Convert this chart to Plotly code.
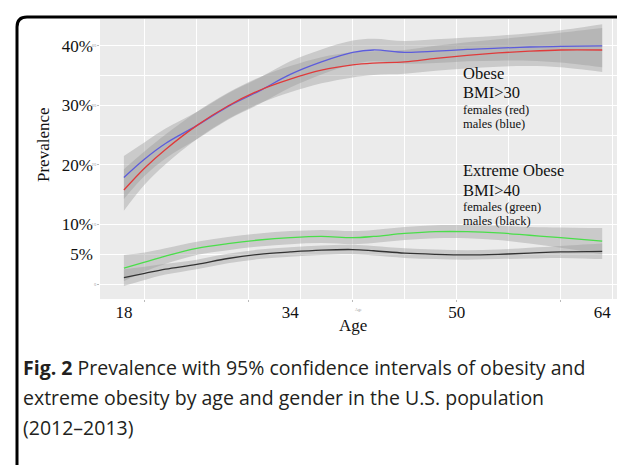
import plotly.graph_objects as go

# ---- data ----
ages = [18, 20, 22, 25, 28, 31, 34, 37, 40, 42, 45, 48, 51, 54, 57, 60, 64]

obese_male = [17.9, 21.0, 23.6, 26.6, 29.8, 32.4, 35.2, 37.3, 38.9, 39.3, 38.9, 39.1, 39.4, 39.6, 39.8, 39.9, 40.0]
obese_male_hw = [3.6, 2.8, 2.5, 2.3, 2.2, 2.2, 2.2, 2.1, 2.0, 1.9, 1.9, 2.0, 2.0, 2.1, 2.3, 2.7, 3.6]
obese_female = [15.8, 19.5, 22.6, 26.6, 29.9, 32.5, 34.4, 35.9, 36.8, 37.1, 37.3, 37.9, 38.4, 38.8, 39.1, 39.3, 39.3]
obese_female_hw = [3.5, 2.8, 2.5, 2.3, 2.2, 2.2, 2.2, 2.2, 2.1, 2.0, 2.0, 2.1, 2.2, 2.3, 2.5, 2.9, 3.7]

extreme_female = [2.7, 3.7, 4.7, 6.0, 6.8, 7.4, 7.8, 8.0, 7.8, 8.0, 8.5, 8.8, 8.8, 8.6, 8.2, 7.8, 7.2]
extreme_female_hw = [2.2, 1.6, 1.3, 1.1, 1.1, 1.1, 1.1, 1.1, 1.1, 1.1, 1.1, 1.1, 1.1, 1.2, 1.4, 1.7, 2.2]
extreme_male = [1.1, 1.8, 2.5, 3.3, 4.3, 5.0, 5.4, 5.7, 5.8, 5.6, 5.2, 5.0, 4.9, 5.0, 5.2, 5.4, 5.5]
extreme_male_hw = [1.4, 1.1, 0.9, 0.8, 0.8, 0.8, 0.8, 0.8, 0.8, 0.8, 0.8, 0.8, 0.8, 0.8, 0.9, 1.0, 1.3]

x_grid_major = [20, 30, 40, 50, 60]
x_grid_minor = [25, 35, 45, 55, 65]
y_grid_major = [0, 10, 20, 30, 40]
y_grid_minor = [5, 15, 25, 35]
x_label_vals = [18, 34, 50, 64]
y_label_vals = [5, 10, 20, 30, 40]
y_label_text = ["5%", "10%", "20%", "30%", "40%"]

# ---- geometry ----
W, H = 625, 465
ML, MR, MT, MB = 92, 10, 11, 174
PW, PH = W - ML - MR, H - MT - MB
XR = [15.7, 66.0]
YR = [-2.5, 44.5]


def px(xpix):
    return (xpix - ML) / PW


def py(ypix):
    return (H - MB - ypix) / PH


SERIF = "Liberation Serif"
BAND = "rgba(153,153,153,0.4)"

fig = go.Figure()

series = [
    (obese_male, obese_male_hw, "#5c5cdc"),
    (obese_female, obese_female_hw, "#e03a3a"),
    (extreme_female, extreme_female_hw, "#4ade4a"),
    (extreme_male, extreme_male_hw, "#333333"),
]

for vals, hw, col in series:
    lo = [v - h for v, h in zip(vals, hw)]
    hi = [v + h for v, h in zip(vals, hw)]
    fig.add_trace(go.Scatter(x=ages, y=lo, mode="lines", line=dict(width=0, shape="spline"),
                             showlegend=False, hoverinfo="skip"))
    fig.add_trace(go.Scatter(x=ages, y=hi, mode="lines", line=dict(width=0, shape="spline"),
                             fill="tonexty", fillcolor=BAND, showlegend=False, hoverinfo="skip"))

for vals, hw, col in series:
    fig.add_trace(go.Scatter(x=ages, y=vals, mode="lines", line=dict(color=col, width=1.3, shape="spline"),
                             showlegend=False))

# dummy trace for the overlay axes
fig.add_trace(go.Scatter(x=[None], y=[None], xaxis="x2", yaxis="y2", showlegend=False, hoverinfo="skip"))

tiny = dict(size=4, color="#999999")
fig.update_layout(
    width=W, height=H,
    margin=dict(l=ML, r=MR, t=MT, b=MB),
    paper_bgcolor="white",
    plot_bgcolor="#EBEBEB",
    showlegend=False,
    xaxis=dict(range=XR, tickvals=x_grid_major, showticklabels=False,
               ticks="outside", ticklen=2, tickcolor="#bbbbbb",
               showgrid=True, gridcolor="white", gridwidth=1.1, zeroline=False,
               minor=dict(tickvals=x_grid_minor, showgrid=True, gridcolor="white", gridwidth=0.5, ticks=""),
               showline=False),
    yaxis=dict(range=YR, tickvals=y_grid_major, ticktext=[str(v) for v in y_grid_major],
               tickfont=tiny, ticks="outside", ticklen=2, tickcolor="#bbbbbb",
               showgrid=True, gridcolor="white", gridwidth=1.1, zeroline=False,
               minor=dict(tickvals=y_grid_minor, showgrid=True, gridcolor="white", gridwidth=0.5, ticks=""),
               showline=False),
    xaxis2=dict(range=XR, overlaying="x", anchor="y", side="bottom",
                tickvals=x_label_vals, ticktext=[str(v) for v in x_label_vals],
                tickfont=dict(family=SERIF, size=17, color="#111111"),
                ticks="", showgrid=False, zeroline=False, ticklabelstandoff=1),
    yaxis2=dict(range=YR, overlaying="y", anchor="x", side="left",
                tickvals=y_label_vals, ticktext=y_label_text,
                tickfont=dict(family=SERIF, size=17, color="#111111"),
                ticks="", showgrid=False, zeroline=False, ticklabelstandoff=6),
)

ann = []


def add_text(text, xpix, ypix, size, family=SERIF, xanchor="left", angle=0, color="#111111"):
    ann.append(dict(text=text, x=px(xpix), y=py(ypix), xref="paper", yref="paper",
                    xanchor=xanchor, yanchor="middle", showarrow=False, textangle=angle,
                    font=dict(family=family, size=size, color=color)))


add_text("Prevalence", 35, 137, 17, xanchor="center", angle=-90)
add_text("Age", 345, 317, 17, xanchor="center")
add_text("Age", 350, 301, 4, xanchor="center", color="#999999")

add_text("Obese", 453, 65, 16.5)
add_text("BMI>30", 453, 85, 16.5)
add_text("females (red)", 453, 102, 12.5)
add_text("males (blue)", 453, 116, 12.5)
add_text("Extreme Obese", 453, 162, 16.5)
add_text("BMI>40", 453, 182, 16.5)
add_text("females (green)", 453, 199, 12.5)
add_text("males (black)", 453, 213, 12.5)

CAP = "Open Sans"
add_text("<b>Fig. 2</b> Prevalence with 95% confidence intervals of obesity and", 13, 359, 19.5, family=CAP, color="#231f20")
add_text("extreme obesity by age and gender in the U.S. population", 13, 389, 19.5, family=CAP, color="#231f20")
add_text("(2012–2013)", 13, 419, 19.5, family=CAP, color="#231f20")

fig.update_layout(annotations=ann)

# rounded frame (top and left edges)
r = 10
bx, by = 9, 9
path = (f"M {px(W + 5)} {py(by)} L {px(bx + r)} {py(by)} "
        f"Q {px(bx)} {py(by)} {px(bx)} {py(by + r)} "
        f"L {px(bx)} {py(457)} Q {px(bx)} {py(463)} {px(bx + 6)} {py(463)}")
fig.add_shape(type="path", path=path, xref="paper", yref="paper",
              line=dict(color="black", width=3), layer="above")

fig.write_html("out.html")
